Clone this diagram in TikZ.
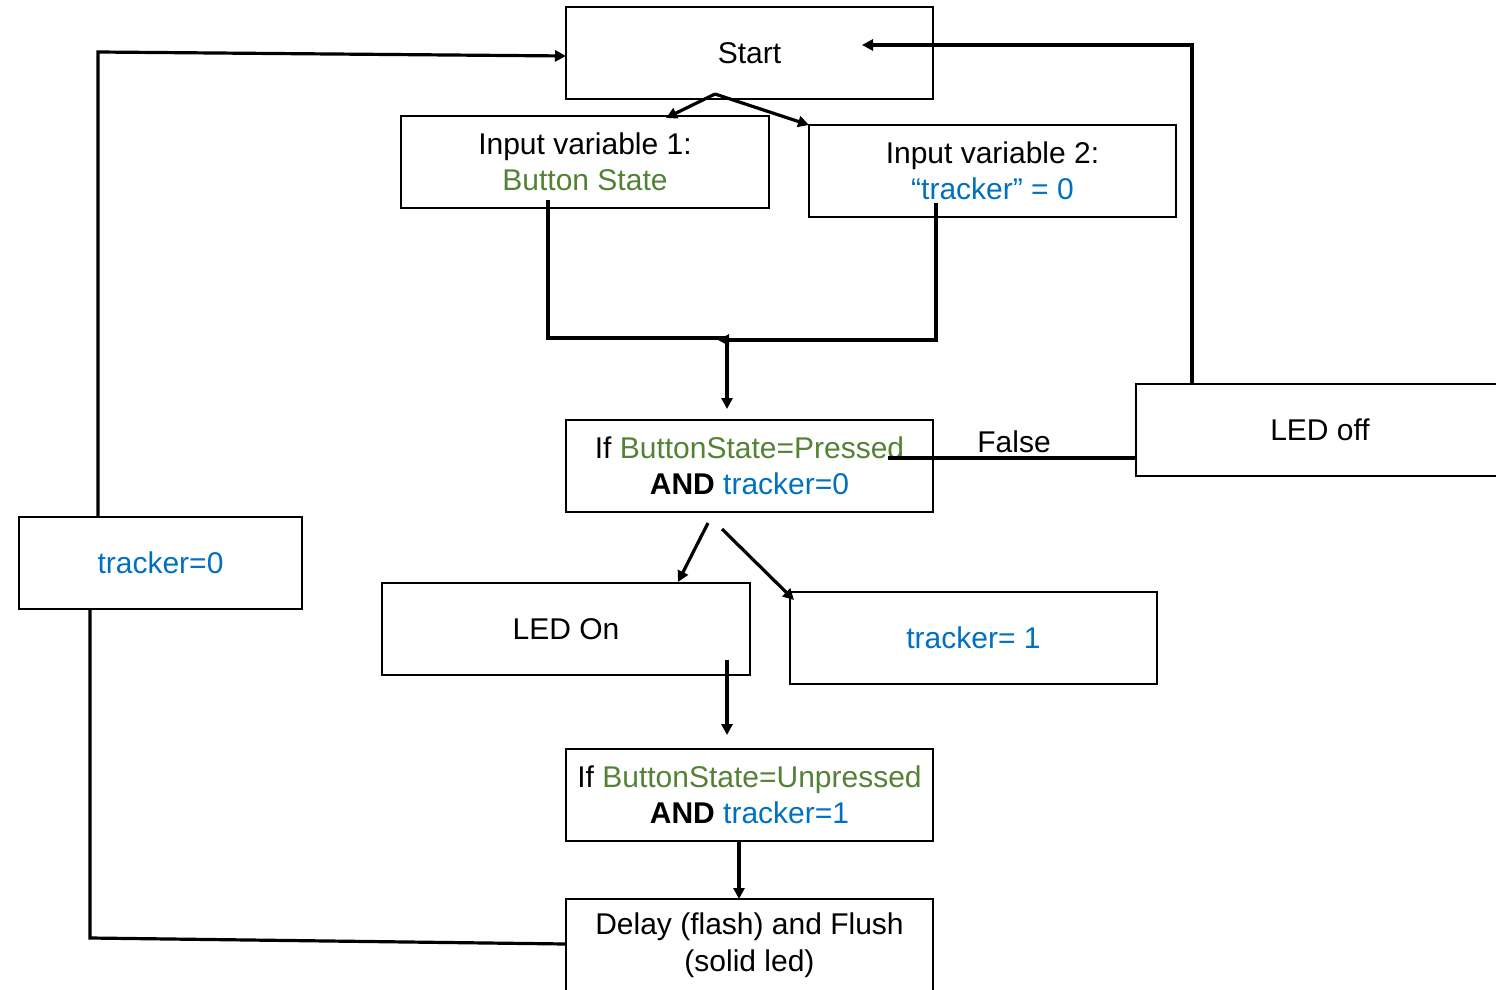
\documentclass[tikz,border=0pt]{standalone}
\usepackage{fontspec}
\setmainfont{Liberation Sans}
\usetikzlibrary{arrows.meta}
\definecolor{gr}{RGB}{84,130,53}
\definecolor{bl}{RGB}{0,112,192}
\begin{document}
\begin{tikzpicture}[x=1pt,y=-1pt,
  box/.style={draw,line width=2.6pt,minimum height=92pt,inner sep=0pt,align=center,font=\fontsize{30}{36.5}\selectfont},
  conn/.style={line width=3.2pt},
  arr/.style={line width=3.2pt,-{Triangle[length=11pt,width=11pt]}}]
\useasboundingbox (0,0) rectangle (1496,990);
\clip (0,0) rectangle (1496,990);
\node[box,minimum width=367pt] (start) at (749.5,53) {Start};
\node[box,minimum width=368pt] (in1) at (585,162) {Input variable 1:\\\textcolor{gr}{Button State}};
\node[box,minimum width=367pt] (in2) at (992.5,171) {Input variable 2:\\\textcolor{bl}{“tracker” = 0}};
\node[box,minimum width=367pt] (if1) at (749.5,466) {If \textcolor{gr}{ButtonState=Pressed}\\\textbf{AND} \textcolor{bl}{tracker=0}};
\node[box,minimum width=368pt] (ledoff) at (1320,430) {LED off};
\node[box,minimum width=283pt] (t0) at (160.5,563) {\textcolor{bl}{tracker=0}};
\node[box,minimum width=368pt] (ledon) at (566,629) {LED On};
\node[box,minimum width=367pt] (t1) at (973.5,638) {\textcolor{bl}{tracker= 1}};
\node[box,minimum width=367pt] (if2) at (749.5,795) {If \textcolor{gr}{ButtonState=Unpressed}\\\textbf{AND} \textcolor{bl}{tracker=1}};
\node[box,minimum width=367pt] (delay) at (749.5,945) {\raisebox{-4pt}{\parbox{367pt}{\centering Delay (flash) and Flush\\(solid led)}}};
\node[font=\fontsize{30}{36}\selectfont] (false) at (1014,442) {False};
% start split
\coordinate (sp) at (715,94);
\coordinate (in1top) at (666,118);
\coordinate (in2top) at (809,125);
\draw[arr] (sp) -- (in1top);
\draw[arr] (sp) -- (in2top);
% merge
\coordinate (a1) at (548,200);
\coordinate (a2) at (548,338);
\coordinate (m1) at (727,338);
\coordinate (b1) at (936,203);
\coordinate (b2) at (936,340);
\coordinate (m2) at (718,340);
\coordinate (m3) at (727,336);
\coordinate (if1top) at (727,409);
\draw[conn] (a1) -- (a2) -- (m1);
\draw[arr] (b1) -- (b2) -- (m2);
\draw[arr] (m3) -- (if1top);
% false
\coordinate (f1) at (888,458);
\draw[conn] (f1) -- (ledoff.west |- f1);
% led off back to start
\coordinate (o1) at (1192,384);
\coordinate (o2) at (1192,45);
\coordinate (o3) at (862,45);
\draw[arr] (o1) -- (o2) -- (o3);
% if1 branches
\coordinate (c1) at (708,523);
\coordinate (c2) at (678,582);
\coordinate (d1) at (722,529);
\coordinate (d2) at (794,600);
\draw[arr] (c1) -- (c2);
\draw[arr] (d1) -- (d2);
% led on down
\coordinate (e1) at (727,660);
\coordinate (e2) at (727,735);
\draw[arr] (e1) -- (e2);
% if2 down
\coordinate (g1) at (739,841);
\coordinate (g2) at (739,899);
\draw[arr] (g1) -- (g2);
% delay to tracker0
\coordinate (h1) at (566,944);
\coordinate (h2) at (90,938);
\coordinate (h3) at (90,609);
\draw[conn] (h1) -- (h2) -- (h3);
% tracker0 to start
\coordinate (k1) at (98,517);
\coordinate (k2) at (98,52);
\coordinate (k3) at (566,56);
\draw[arr] (k1) -- (k2) -- (k3);
\end{tikzpicture}
\end{document}
